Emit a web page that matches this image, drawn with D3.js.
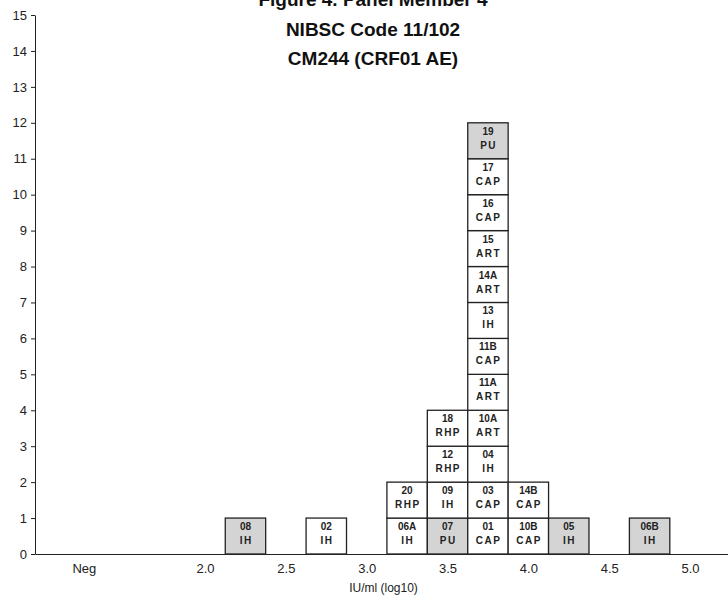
<!DOCTYPE html>
<html>
<head>
<meta charset="utf-8">
<script src="https://cdn.jsdelivr.net/npm/d3@7"></script>
<style>
  html, body { margin: 0; padding: 0; background: #fff; }
  svg { display: block; font-family: "Liberation Sans", Arial, sans-serif; }
</style>
</head>
<body>
<div id="chart"></div>
<script>
// titles
const TITLE_LINES = ["Figure 4. Panel Member 4", "NIBSC Code 11/102", "CM244 (CRF01 AE)"];
const X_LABEL = "IU/ml (log10)";

// x axis ticks (Neg sits in its own bin left of 2.0)
const X_TICK_VALUES = [1.25, 2.0, 2.5, 3.0, 3.5, 4.0, 4.5, 5.0];
const X_TICK_LABELS = ["Neg", "2.0", "2.5", "3.0", "3.5", "4.0", "4.5", "5.0"];
const Y_TICKS = d3.range(0, 16);

// one entry per lab result, bottom to top inside each bin
const SAMPLE_CODES   = ["08", "02", "06A", "20", "07", "09", "12", "18",
                        "01", "03", "04", "10A", "11A", "11B", "13", "14A", "15", "16", "17", "19",
                        "10B", "14B", "05", "06B"];
const SAMPLE_METHODS = ["IH", "IH", "IH", "RHP", "PU", "IH", "RHP", "RHP",
                        "CAP", "CAP", "IH", "ART", "ART", "CAP", "IH", "ART", "ART", "CAP", "CAP", "PU",
                        "CAP", "CAP", "IH", "IH"];
const SAMPLE_BINS    = [2.25, 2.75, 3.25, 3.25, 3.5, 3.5, 3.5, 3.5,
                        3.75, 3.75, 3.75, 3.75, 3.75, 3.75, 3.75, 3.75, 3.75, 3.75, 3.75, 3.75,
                        4.0, 4.0, 4.25, 4.75];
const SHADED_CODES   = ["08", "07", "19", "05", "06B"];
const BIN_WIDTH = 0.25;

const W = 728, H = 611;
const margin = { top: 15, right: 0, bottom: 57, left: 35 };

const svg = d3.select("#chart").append("svg")
  .attr("width", W).attr("height", H);

const x = d3.scaleLinear().domain([0.948, 5.235]).range([margin.left, W - margin.right]);
const y = d3.scaleLinear().domain([0, 15]).range([H - margin.bottom, margin.top]);

// stack results per bin
const counts = new Map();
const boxes = SAMPLE_CODES.map((code, i) => {
  const bin = SAMPLE_BINS[i];
  const level = counts.get(bin) || 0;
  counts.set(bin, level + 1);
  return { code, method: SAMPLE_METHODS[i], bin, level, shaded: SHADED_CODES.includes(code) };
});

const boxG = svg.append("g").selectAll("g")
  .data(boxes)
  .join("g")
  .attr("transform", d => `translate(${x(d.bin - BIN_WIDTH / 2)},${y(d.level + 1)})`);

const bw = x(BIN_WIDTH) - x(0);
const bh = y(0) - y(1);

boxG.append("rect")
  .attr("width", bw)
  .attr("height", bh)
  .attr("fill", d => d.shaded ? "#d4d4d4" : "#fff")
  .attr("stroke", "#222")
  .attr("stroke-width", 1.3);

boxG.append("text")
  .attr("x", bw / 2).attr("y", 12)
  .attr("text-anchor", "middle")
  .style("font-size", "10px").style("font-weight", "bold").style("fill", "#222")
  .text(d => d.code);

boxG.append("text")
  .attr("x", bw / 2 + 0.7).attr("y", 26)
  .attr("text-anchor", "middle")
  .style("font-size", "10px").style("font-weight", "bold").style("fill", "#222")
  .style("letter-spacing", "1.5px")
  .text(d => d.method);

// y axis
const yAxis = svg.append("g")
  .attr("transform", `translate(${margin.left},0)`)
  .call(d3.axisLeft(y).tickValues(Y_TICKS).tickSize(4).tickSizeOuter(0).tickPadding(4).tickFormat(d3.format("d")));
yAxis.selectAll("text").style("font-size", "13px").style("fill", "#222")
  .style("font-family", "'Liberation Sans', Arial, sans-serif");
yAxis.selectAll("line, path").attr("stroke", "#222");

// x axis
const xAxis = svg.append("g")
  .attr("transform", `translate(0,${y(0)})`)
  .call(d3.axisBottom(x).tickValues(X_TICK_VALUES).tickSize(0).tickSizeOuter(0).tickPadding(10)
    .tickFormat((d, i) => X_TICK_LABELS[i]));
xAxis.selectAll("text").style("font-size", "13px").style("fill", "#222")
  .style("font-family", "'Liberation Sans', Arial, sans-serif");
xAxis.select(".domain").attr("stroke", "#222");

svg.append("text")
  .attr("x", (margin.left + W) / 2 + 2)
  .attr("y", H - 19)
  .attr("text-anchor", "middle")
  .style("font-size", "12px").style("fill", "#222")
  .text(X_LABEL);

// title
svg.append("g").selectAll("text")
  .data(TITLE_LINES)
  .join("text")
  .attr("x", 373)
  .attr("y", (d, i) => 6 + i * 29.5)
  .attr("text-anchor", "middle")
  .style("font-size", "19px").style("font-weight", "bold").style("fill", "#111")
  .text(d => d);
</script>
</body>
</html>
